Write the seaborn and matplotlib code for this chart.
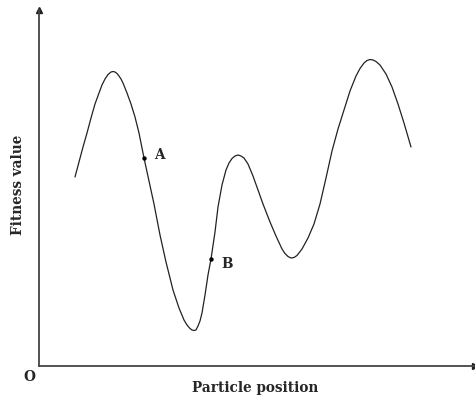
import matplotlib
matplotlib.use("Agg")
import matplotlib.pyplot as plt
import seaborn as sns
import pandas as pd

# Curve (particle position, fitness value), in picture pixels
pos_px = [75, 79, 83, 87, 91, 95, 99, 102, 105, 108, 111, 113, 115, 117, 119, 121, 123, 127,
          131, 135, 139, 144, 149, 154, 160, 166, 173, 179, 184, 187, 190, 192, 194, 196, 198,
          200, 202, 205, 208, 211, 215, 218, 222, 226, 229, 232, 235, 238, 241, 244, 248, 253,
          258, 263, 270, 276, 282, 285, 288, 291, 294, 297, 302, 308, 314, 320, 326, 332, 338,
          344, 350, 356, 360, 364, 367, 370, 373, 376, 380, 386, 392, 398, 404, 411]
fit_px = [177, 162, 147, 133, 118, 104, 93, 85, 79, 74.5, 72, 71.5, 72, 73.5, 76, 79, 83, 93,
          104, 117, 133, 158, 181, 204, 235, 262, 290, 308, 320, 325, 328.5, 330, 330.5, 330,
          326, 321, 313, 295, 275, 259, 232, 207, 185, 170, 163, 158.5, 156, 155, 156, 158, 164,
          176, 190, 204, 222, 236, 249, 253.5, 256.5, 258, 257.5, 255.5, 249, 238, 224, 204,
          178, 151, 129, 110, 91, 76, 68.5, 63, 60.5, 59.5, 60, 61.5, 65, 74, 87, 104, 123, 147]
position = [p - 39 for p in pos_px]
fitness = [366 - f for f in fit_px]

point_names = ["A", "B"]
point_pos = [144 - 39, 211 - 39]
point_fit = [366 - 158, 366 - 259]

sns.set_style("white")
plt.rcParams["font.family"] = ["DejaVu Serif"]

fig = plt.figure(figsize=(4.75, 4.01), dpi=100)
ax = fig.add_axes([39 / 475, 35 / 401, 436 / 475, 356 / 401])

df = pd.DataFrame({"position": position, "fitness": fitness})
sns.lineplot(data=df, x="position", y="fitness", sort=False, estimator=None,
             color="#222222", linewidth=0.9, ax=ax)
sns.scatterplot(x=point_pos, y=point_fit, color="black", s=10, edgecolor="black",
                linewidth=0, ax=ax, zorder=5)
label_dy = {"A": 3, "B": -5}
for name, px, py in zip(point_names, point_pos, point_fit):
    ax.text(px + 10, py + label_dy[name], name, fontsize=9.8, fontweight="bold",
            ha="left", va="center")

ax.set_xlim(0, 436)
ax.set_ylim(0, 356)
ax.set_xticks([])
ax.set_yticks([])
for s in ["top", "right"]:
    ax.spines[s].set_visible(False)
for s in ["left", "bottom"]:
    ax.spines[s].set_color("#444444")
    ax.spines[s].set_linewidth(1.3)

ax.plot(0, 1, marker="^", color="#222222", markersize=4, transform=ax.transAxes, clip_on=False)
ax.plot(1, 0, marker=">", color="#222222", markersize=4, transform=ax.transAxes, clip_on=False)

ax.set_xlabel("")
ax.set_ylabel("")
fig.text(255 / 475, 1 - 388 / 401, "Particle position", fontsize=9.8, fontweight="bold",
         ha="center", va="center")
fig.text(18 / 475, 1 - 185 / 401, "Fitness value", fontsize=9.8, fontweight="bold",
         ha="center", va="center", rotation=90)
fig.text(29 / 475, 1 - 377 / 401, "O", fontsize=9.8, fontweight="bold",
         ha="center", va="center")

fig.savefig("out.png", dpi=100)
